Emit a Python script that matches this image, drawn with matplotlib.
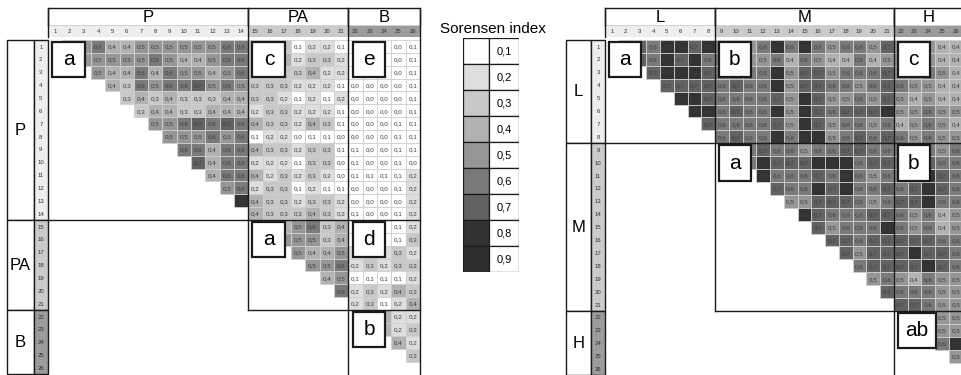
import numpy as np
import matplotlib.pyplot as plt
from matplotlib.patches import Rectangle

plt.rcParams['font.family'] = ['Liberation Sans', 'DejaVu Sans']

# значения индекса Сёренсена, в десятых; строка i -> столбцы i+1..n
left_groups = ['P', 'PA', 'B']
left_sizes = [14, 7, 5]
left_rows = [
    [6, 5, 6, 4, 4, 5, 5, 5, 5, 5, 5, 6, 6, 3, 3, 3, 1, 2, 2, 1, 0, 0, 0, 0, 1],
    [5, 5, 5, 5, 5, 6, 5, 4, 4, 5, 6, 6, 3, 3, 4, 2, 3, 3, 2, 0, 0, 0, 0, 1],
    [5, 4, 4, 6, 4, 6, 5, 5, 4, 5, 6, 3, 3, 3, 3, 4, 2, 2, 0, 0, 0, 0, 1],
    [4, 3, 6, 5, 6, 6, 7, 5, 6, 5, 3, 3, 3, 2, 2, 2, 1, 0, 0, 0, 0, 1],
    [3, 4, 3, 4, 3, 3, 3, 4, 4, 3, 3, 2, 1, 2, 1, 2, 0, 0, 0, 0, 1],
    [3, 4, 4, 3, 3, 4, 4, 4, 2, 3, 3, 2, 2, 2, 1, 0, 0, 0, 0, 1],
    [5, 5, 6, 7, 6, 7, 6, 4, 3, 3, 2, 4, 3, 1, 0, 0, 0, 1, 1],
    [5, 5, 5, 6, 5, 6, 1, 2, 2, 0, 1, 1, 0, 0, 0, 0, 1, 1],
    [6, 6, 4, 6, 6, 4, 3, 3, 2, 3, 3, 1, 1, 0, 0, 1, 1],
    [7, 4, 6, 6, 2, 2, 2, 1, 3, 3, 0, 1, 0, 0, 1, 0],
    [4, 6, 6, 4, 2, 3, 2, 3, 2, 0, 1, 1, 1, 1, 2],
    [5, 6, 2, 3, 3, 1, 2, 1, 1, 0, 0, 0, 1, 2],
    [8, 4, 3, 3, 2, 3, 3, 2, 0, 0, 0, 0, 2],
    [4, 3, 3, 3, 4, 3, 2, 1, 0, 0, 1, 2],
    [5, 4, 5, 6, 3, 4, 1, 2, 1, 1, 2],
    [5, 5, 5, 3, 4, 1, 2, 1, 1, 3],
    [5, 4, 4, 5, 2, 3, 2, 3, 2],
    [5, 5, 6, 2, 3, 2, 3, 3],
    [4, 5, 1, 1, 1, 1, 2],
    [6, 2, 3, 2, 4, 3],
    [2, 3, 1, 2, 4],
    [3, 4, 2, 2],
    [4, 2, 3],
    [4, 2],
    [3],
]
left_boxes = [['a', 'c', 'e'], ['a', 'd'], ['b']]

right_groups = ['L', 'M', 'H']
right_sizes = [8, 13, 5]
right_rows = [
    [7, 7, 6, 8, 8, 7, 8, 6, 6, 5, 6, 8, 6, 8, 6, 5, 6, 6, 5, 7, 5, 5, 5, 4, 4],
    [7, 6, 8, 7, 8, 6, 6, 6, 5, 5, 6, 4, 6, 5, 4, 4, 6, 4, 5, 5, 5, 5, 4, 4],
    [7, 8, 8, 8, 7, 6, 6, 6, 6, 8, 5, 7, 7, 5, 6, 6, 6, 7, 5, 5, 6, 5, 4],
    [7, 7, 7, 7, 6, 7, 6, 6, 8, 5, 7, 7, 6, 6, 5, 6, 7, 6, 5, 5, 4, 4],
    [8, 8, 7, 6, 6, 6, 6, 7, 5, 8, 7, 5, 5, 6, 5, 7, 5, 4, 5, 4, 4],
    [8, 8, 6, 7, 6, 6, 8, 5, 8, 7, 6, 7, 7, 7, 8, 5, 5, 6, 5, 5],
    [7, 6, 6, 6, 6, 7, 5, 8, 7, 5, 6, 6, 5, 6, 4, 5, 6, 5, 4],
    [6, 7, 6, 6, 8, 6, 8, 8, 5, 6, 7, 6, 7, 6, 5, 6, 5, 5],
    [6, 6, 7, 6, 6, 5, 6, 6, 7, 7, 6, 6, 6, 6, 6, 5, 6],
    [6, 8, 7, 7, 7, 8, 8, 8, 6, 7, 7, 6, 6, 7, 6, 6],
    [8, 6, 6, 6, 7, 6, 8, 6, 5, 6, 6, 6, 8, 7, 6],
    [7, 6, 6, 8, 7, 8, 6, 6, 7, 6, 7, 8, 7, 6],
    [5, 5, 7, 7, 7, 6, 5, 6, 7, 7, 8, 6, 6],
    [8, 7, 6, 6, 6, 7, 7, 6, 5, 6, 4, 5],
    [7, 5, 6, 6, 6, 8, 6, 5, 6, 4, 5],
    [7, 7, 6, 7, 7, 7, 7, 7, 6, 6],
    [7, 5, 7, 7, 7, 8, 7, 7, 6],
    [6, 7, 7, 7, 7, 8, 7, 6],
    [5, 6, 5, 4, 6, 5, 5],
    [7, 6, 6, 6, 5, 5],
    [7, 7, 6, 5, 5],
    [5, 5, 5, 5],
    [5, 5, 5],
    [6, 8],
    [5],
]
right_boxes = [['a', 'b', 'c'], ['a', 'b'], ['ab']]

legend_values = [1, 2, 3, 4, 5, 6, 7, 8, 9]
shades = ['#ffffff', '#ffffff', '#dedede', '#c8c8c8', '#b2b2b2',
          '#969696', '#7a7a7a', '#626262', '#333333', '#2e2e2e']
header_shades = ['#eeeeee', '#cbcbcb', '#9c9c9c']

W, H = 962, 375
fig = plt.figure(figsize=(W / 100, H / 100), dpi=100)


def panel_axes(x0, y0, cw, rh, xlim, ylim):
    left = x0 + xlim[0] * cw
    right = x0 + xlim[1] * cw
    top = y0 + ylim[1] * rh
    bottom = y0 + ylim[0] * rh
    ax = fig.add_axes([left / W, 1 - bottom / H, (right - left) / W, (bottom - top) / H])
    ax.set_xlim(*xlim)
    ax.set_ylim(*ylim)
    ax.axis('off')
    return ax


def draw_panel(ax, groups, sizes, rows, boxes):
    n = sum(sizes)
    edges = np.cumsum([0] + sizes)
    G = len(groups)
    # прямоугольники с буквами
    rects = []
    for g in range(G):
        for h in range(g, G):
            lab = boxes[g][h - g]
            w = 2.3 if len(lab) == 1 else 2.75
            rects.append((edges[h] + 0.3, edges[g] + 0.15, w, 2.75, lab))

    def hidden(x, y):
        return any(bx - 0.3 < x < bx + bw + 0.3 and by < y < by + bh
                   for bx, by, bw, bh, _ in rects)

    # ячейки
    for i, row in enumerate(rows):
        for k, v in enumerate(row):
            j = i + 1 + k
            ax.add_patch(Rectangle((j, i), 1, 1, facecolor=shades[v],
                                   edgecolor='#cfcfcf', lw=0.6))
            if not hidden(j + 0.5, i + 0.5):
                ax.text(j + 0.5, i + 0.55, f'0,{v}', ha='center', va='center',
                        fontsize=4.5, color='#3c3c3c')
    # заголовки столбцов и строк
    for g in range(G):
        a, b = edges[g], edges[g + 1]
        ax.add_patch(Rectangle((a, -2.45), b - a, 1.4, facecolor='white',
                               edgecolor='#1a1a1a', lw=1.0))
        ax.text((a + b) / 2, -1.72, groups[g], ha='center', va='center', fontsize=12)
        ax.add_patch(Rectangle((a, -1.05), b - a, 0.8, facecolor=header_shades[g],
                               edgecolor='none'))
        ax.add_patch(Rectangle((-2.85, a), 1.85, b - a, facecolor='white',
                               edgecolor='#1a1a1a', lw=1.0))
        ax.add_patch(Rectangle((-1, a), 1, b - a, facecolor=header_shades[g],
                               edgecolor='#1a1a1a', lw=1.0))
        ax.text(-1.92, (a + b) / 2, groups[g], ha='center', va='center', fontsize=12)
        for j in range(a, b):
            ax.text(j + 0.5, -0.63, str(j + 1), ha='center', va='center',
                    fontsize=4.3, color='#333333')
            ax.text(-0.5, j + 0.55, str(j + 1), ha='center', va='center',
                    fontsize=4.3, color='#333333')
    # линии блоков
    ax.plot([0, 0], [-2.45, -0.25], color='#1a1a1a', lw=1.0)
    for g in range(G):
        x = edges[g + 1]
        ax.plot([x, x], [-2.45, edges[min(g + 2, G)]], color='#1a1a1a', lw=1.0)
        if g < G - 1:
            ax.plot([edges[g], n], [x, x], color='#1a1a1a', lw=1.0)
    # буквенные обозначения
    for bx, by, bw, bh, lab in rects:
        ax.add_patch(Rectangle((bx, by), bw, bh, facecolor='white',
                               edgecolor='#1a1a1a', lw=1.6, zorder=5))
        ax.text(bx + bw / 2, by + 1.4, lab, ha='center', va='center',
                fontsize=15, zorder=6)


ax_l = panel_axes(48, 40, 14.3, 12.86, (-3.0, 26.2), (26.2, -2.7))
draw_panel(ax_l, left_groups, left_sizes, left_rows, left_boxes)

ax_r = panel_axes(605, 40, 13.75, 12.9, (-3.0, 26.2), (26.2, -2.7))
draw_panel(ax_r, right_groups, right_sizes, right_rows, right_boxes)

# легенда
lax = panel_axes(463, 38.3, 26, 26, (0, 2.15), (9, 0))
for k, v in enumerate(legend_values):
    lax.add_patch(Rectangle((0, k), 1, 1, facecolor=shades[v], edgecolor='#1a1a1a', lw=0.9))
    lax.add_patch(Rectangle((1, k), 1.15, 1, facecolor='white', edgecolor='#1a1a1a', lw=0.9))
    lax.text(1.575, k + 0.52, f'0,{v}', ha='center', va='center', fontsize=8)
lax.text(1.15, -0.36, 'Sorensen index', ha='center', va='center', fontsize=11)

fig.savefig('out.png', dpi=100)
